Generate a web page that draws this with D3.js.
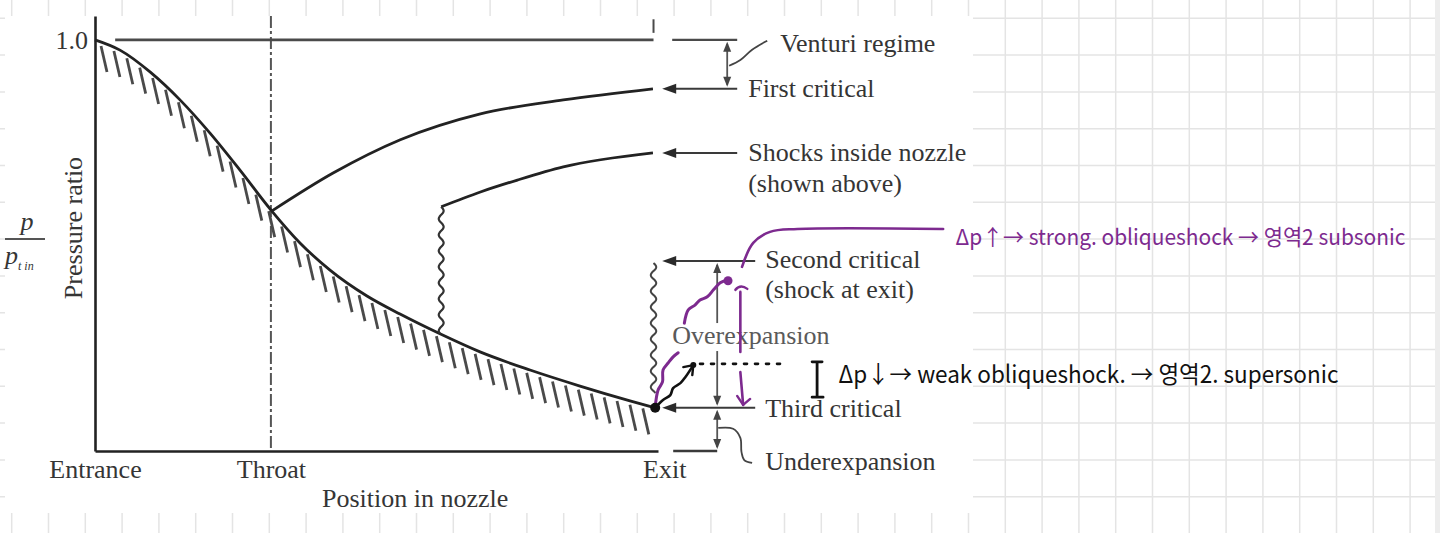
<!DOCTYPE html>
<html lang="en">
<meta charset="utf-8"/>
<head>
<style>
  html, body { margin: 0; padding: 0; background: #fff; }
  svg { display: block; }
  .fig text { font-family: "Liberation Serif", "DejaVu Serif", serif; fill: #353535; }
  .hand { font-family: "Noto Sans CJK KR", "Noto Sans", sans-serif; }
</style>
</head>
<body>
<svg id="chart" width="1440" height="533"></svg>

<script src="https://cdn.jsdelivr.net/npm/d3@7/dist/d3.min.js"></script>
<script>
// position in nozzle: 0 = entrance, 1 = exit ; value = pressure ratio p / p_t,in
let throatPos = 0.314
let shockPos = 0.618
let isentropic = [[0,1.0],[0.0446,0.975],[0.0982,0.922],[0.1517,0.854],[0.2053,0.773],[0.2588,0.683],[0.3142,0.586],
                  [0.3659,0.506],[0.4195,0.440],[0.4855,0.377],[0.5445,0.333],[0.6158,0.285],[0.6873,0.241],
                  [0.7765,0.197],[0.8658,0.158],[0.955,0.122],[1.0,0.105]]
let firstCritical = [[0.316,0.584],[0.425,0.676],[0.545,0.757],[0.688,0.820],[0.836,0.854],[0.996,0.881]]
let shockCurve = [[0.618,0.594],[0.688,0.630],[0.754,0.659],[0.836,0.691],[0.996,0.725]]
let shockFoot = 0.283
let secondCriticalFoot = 0.14

// exit back-pressure levels
let venturiTop = 1.0
let levelNames = ["First critical", "Shocks inside nozzle", "Second critical", "Third critical"]
let levelValues = [0.881, 0.725, 0.462, 0.105]
let underLevel = 0

let xTickNames = ["Entrance", "Throat", "Exit"]
let xTickPos = [0, throatPos, 1]
let yTickNames = ["1.0"]
let yTickPos = [1.0]

// handwritten notes (same position / ratio units)
let purpleLeader = [[1.155,0.448],[1.175,0.506],[1.205,0.533],[1.254,0.540],[1.514,0.540]]
let purpleRise1 = [[1.0,0.107],[1.005,0.148],[1.013,0.168],[1.014,0.197],[1.023,0.214],[1.032,0.229],[1.041,0.239]]
let purpleRise2 = [[1.052,0.311],[1.059,0.343],[1.071,0.355],[1.080,0.367],[1.093,0.375],[1.104,0.392],[1.116,0.409],[1.129,0.416]]
let purpleDot = [1.130, 0.414]
let purpleDownA = [[1.152,0.387],[1.152,0.241]]
let purpleDownB = [[1.152,0.192],[1.157,0.112]]
let blackDot = [1.0, 0.105]
let blackRise = [[1.0,0.105],[1.014,0.124],[1.027,0.136],[1.032,0.153],[1.045,0.165],[1.054,0.180],[1.068,0.209]]
let blackDotted = [[1.080,0.212],[1.232,0.212]]
let bracket = [1.289, 0.217, 0.131]
let venturiLeader = [[1.132,0.937],[1.152,0.951],[1.173,0.976],[1.2,0.998]]
let underLeader = [[1.1125,0.056],[1.139,0.054],[1.152,0.032],[1.154,-0.002],[1.159,-0.022],[1.173,-0.029]]
let noteStrong = "Δp↑→ strong. obliqueshock → 영역2 subsonic"
let noteWeak = "Δp↓→ weak obliqueshock. → 영역2. supersonic"
let noteStrongAt = [1.536, 0.501]
let noteWeakAt = [1.327, 0.165]

let svg = d3.select("#chart")
let W = 1440, H = 533
let ink = "#222"
let purple = "#7d2a8f"

// notebook grid behind the pasted figure
let grid = svg.append("g")
grid.selectAll(".gv").data(d3.range(11.7, W, 36.8)).enter().append("line")
    .attr("x1", d => d).attr("x2", d => d).attr("y1", 0).attr("y2", H)
    .attr("stroke", "#e4e4e4").attr("stroke-width", 1.5)
grid.selectAll(".gh").data(d3.range(18.3, H, 36.8)).enter().append("line")
    .attr("x1", 0).attr("x2", 1435).attr("y1", d => d).attr("y2", d => d)
    .attr("stroke", "#e4e4e4").attr("stroke-width", 1.5)
svg.append("rect").attr("x", 1435).attr("y", 0).attr("width", 5).attr("height", H).attr("fill", "#ededed")
svg.append("rect").attr("x", 5).attr("y", 16).attr("width", 968).attr("height", 497).attr("fill", "#fff")

let fig = svg.append("g").attr("class", "fig")

let x = d3.scaleLinear().domain([0, 1.005]).range([95, 658])
let y = d3.scaleLinear().domain([0, 1.058]).range([451, 16])
let line = d3.line().x(d => x(d[0])).y(d => y(d[1])).curve(d3.curveMonotoneX)
let sketch = d3.line().x(d => x(d[0])).y(d => y(d[1])).curve(d3.curveCatmullRom)

function head(g, tx, ty, ang, len, half, col) {
    let bx = tx - len * Math.cos(ang), by = ty - len * Math.sin(ang)
    let nx = -Math.sin(ang) * half, ny = Math.cos(ang) * half
    g.append("path").attr("d", `M${tx},${ty}L${bx + nx},${by + ny}L${bx - nx},${by - ny}Z`).attr("fill", col || "#2a2a2a")
}
function wavy(x0, y0, y1, amp, period) {
    let pts = d3.range(y0, y1, 1).map(v => [x0 + amp * Math.sin((v - y0) / period * 2 * Math.PI), v])
    return d3.line().curve(d3.curveBasis)(pts)
}

// axes
let yAxis = fig.append("g").attr("transform", `translate(${x(0)},0)`)
    .call(d3.axisLeft(y).tickValues(yTickPos).tickFormat((d, i) => yTickNames[i]).tickSize(0).tickSizeOuter(0).tickPadding(7))
let xAxis = fig.append("g").attr("transform", `translate(0,${y(0)})`)
    .call(d3.axisBottom(x).tickValues(xTickPos).tickFormat((d, i) => xTickNames[i]).tickSize(0).tickSizeOuter(0).tickPadding(9))
for (let a of [xAxis, yAxis]) {
    a.attr("font-family", null).attr("font-size", null)
    a.select(".domain").attr("stroke", ink).attr("stroke-width", 2.6)
    a.selectAll("text").attr("font-size", 26).attr("fill", "#353535")
}
xAxis.selectAll(".tick").filter((d, i) => i == 2).select("text").attr("dx", 9)

// throat line
fig.append("line").attr("x1", x(throatPos)).attr("x2", x(throatPos)).attr("y1", y(1.058)).attr("y2", y(0))
    .attr("stroke", "#555").attr("stroke-width", 2).attr("stroke-dasharray", "12,3,3,3")

// venturi top line
fig.append("line").attr("x1", x(0.036)).attr("x2", x(0.997)).attr("y1", y(venturiTop)).attr("y2", y(venturiTop))
    .attr("stroke", "#4a4a4a").attr("stroke-width", 2.6)
fig.append("line").attr("x1", x(0.997)).attr("x2", x(0.997)).attr("y1", y(1.05)).attr("y2", y(1.017))
    .attr("stroke", "#4a4a4a").attr("stroke-width", 2)

// curves
let mainPath = fig.append("path").datum(isentropic).attr("d", line)
    .attr("fill", "none").attr("stroke", ink).attr("stroke-width", 2.8)
fig.append("path").datum(firstCritical).attr("d", line)
    .attr("fill", "none").attr("stroke", ink).attr("stroke-width", 2.8)
fig.append("path").datum(shockCurve).attr("d", line)
    .attr("fill", "none").attr("stroke", ink).attr("stroke-width", 2.8)
fig.append("path").attr("d", wavy(x(shockPos), y(shockCurve[0][1]), y(shockFoot), 2.5, 16))
    .attr("fill", "none").attr("stroke", "#333").attr("stroke-width", 2.2)
fig.append("path").attr("d", wavy(x(0.997), y(levelValues[2]) + 2, y(secondCriticalFoot), 2.8, 16))
    .attr("fill", "none").attr("stroke", "#444").attr("stroke-width", 2)

// hatching under the isentropic curve
let node = mainPath.node()
let total = node.getTotalLength()
let samples = d3.range(0, total, 0.5).map(l => node.getPointAtLength(l))
let near = d3.bisector(p => p.x).center
fig.append("g").selectAll("line").data(d3.range(x(0) + 6, x(1) - 2, 12.9)).enter().append("line")
    .each(function (hx) {
        let p = samples[near(samples, hx)]
        d3.select(this).attr("x1", hx).attr("y1", p.y + 4).attr("x2", hx + 6).attr("y2", p.y + 30)
    })
    .attr("stroke", "#4a4a4a").attr("stroke-width", 2.8)

// exit arrows and labels
let ax0 = x(1) + 7
let arrowEnds = [x(1) + 82, x(1) + 82, x(1) + 100, x(1) + 100]
levelValues.forEach((v, i) => {
    fig.append("line").attr("x1", ax0 + 8).attr("x2", arrowEnds[i]).attr("y1", y(v)).attr("y2", y(v))
        .attr("stroke", "#3a3a3a").attr("stroke-width", 2)
    head(fig, ax0, y(v), Math.PI, 14, 5)
})
fig.append("line").attr("x1", x(1) + 17).attr("x2", x(1) + 82).attr("y1", y(venturiTop)).attr("y2", y(venturiTop))
    .attr("stroke", "#4a4a4a").attr("stroke-width", 2.4)
fig.append("line").attr("x1", x(1) + 18).attr("x2", x(1) + 62).attr("y1", y(underLevel)).attr("y2", y(underLevel))
    .attr("stroke", "#3a3a3a").attr("stroke-width", 2.4)

function dbl(xx, top, bot) {
    fig.append("line").attr("x1", xx).attr("x2", xx).attr("y1", top + 4).attr("y2", bot - 4)
        .attr("stroke", "#555").attr("stroke-width", 1.8)
    head(fig, xx, top + 2, -Math.PI / 2, 10, 4, "#444")
    head(fig, xx, bot - 2, Math.PI / 2, 10, 4, "#444")
}
dbl(x(1) + 72, y(venturiTop), y(levelValues[0]))
dbl(x(1) + 62, y(levelValues[2]), y(levelValues[3]))
dbl(x(1) + 62, y(levelValues[3]), y(underLevel))

fig.append("path").datum(venturiLeader).attr("d", sketch).attr("fill", "none").attr("stroke", "#444").attr("stroke-width", 1.8)
fig.append("path").datum(underLeader).attr("d", sketch).attr("fill", "none").attr("stroke", "#444").attr("stroke-width", 1.8)

// white patch where the overexpansion label sits on the arrow
fig.append("rect").attr("x", x(1) + 16).attr("y", y(levelValues[2]) + 62).attr("width", 160).attr("height", 28).attr("fill", "#fff")

let lab = fig.append("g").attr("font-size", 26)
let labX1 = x(1) + 93, labX2 = x(1) + 110
lab.append("text").attr("x", labX1 + 32).attr("y", y(venturiTop) + 12).text("Venturi regime")
lab.append("text").attr("x", labX1).attr("y", y(levelValues[0]) + 8).text(levelNames[0])
lab.append("text").attr("x", labX1).attr("y", y(levelValues[1]) + 8).text(levelNames[1])
lab.append("text").attr("x", labX1).attr("y", y(levelValues[1]) + 39).text("(shown above)")
lab.append("text").attr("x", labX2).attr("y", y(levelValues[2]) + 7).text(levelNames[2])
lab.append("text").attr("x", labX2).attr("y", y(levelValues[2]) + 37).text("(shock at exit)")
lab.append("text").attr("x", labX2).attr("y", y(levelValues[3]) + 9).text(levelNames[3])
lab.append("text").attr("x", labX2).attr("y", y(underLevel) + 19).text("Underexpansion")
lab.append("text").attr("x", x(1) + 17).attr("y", y(levelValues[2]) + 83).style("fill", "#5a5a5a").text("Overexpansion")

// y label and fraction
lab.append("text").attr("transform", "translate(82,228) rotate(-90)").attr("text-anchor", "middle").text("Pressure ratio")
lab.append("text").attr("x", 27).attr("y", 230).attr("text-anchor", "middle").attr("font-style", "italic").text("p")
lab.append("line").attr("x1", 5).attr("x2", 45).attr("y1", 239).attr("y2", 239).attr("stroke", "#555").attr("stroke-width", 2)
let den = lab.append("text").attr("x", 5).attr("y", 264).attr("font-style", "italic")
den.append("tspan").text("p")
den.append("tspan").attr("font-size", 12).attr("dy", 6).text("t in")
lab.append("text").attr("x", (x(0) + x(1)) / 2 + 40).attr("y", y(0) + 56).attr("text-anchor", "middle").text("Position in nozzle")

// handwritten notes
let hw = svg.append("g").attr("fill", "none").attr("stroke-linecap", "round").attr("stroke-linejoin", "round")
hw.append("path").datum(purpleLeader).attr("d", sketch).attr("stroke", purple).attr("stroke-width", 2.6)
hw.append("path").datum(purpleRise1).attr("d", sketch).attr("stroke", purple).attr("stroke-width", 3)
hw.append("path").datum(purpleRise2).attr("d", sketch).attr("stroke", purple).attr("stroke-width", 3)
hw.append("circle").attr("cx", x(purpleDot[0])).attr("cy", y(purpleDot[1])).attr("r", 4.5).attr("fill", purple)
hw.append("path").datum(purpleDownA).attr("d", sketch).attr("stroke", purple).attr("stroke-width", 2.6)
hw.append("path").datum(purpleDownB).attr("d", sketch).attr("stroke", purple).attr("stroke-width", 2.6)
let pa = purpleDownA[0], pb = purpleDownB[1]
hw.append("path").attr("d", `M${x(pa[0]) - 5},${y(pa[1]) - 2}Q${x(pa[0])},${y(pa[1]) - 8} ${x(pa[0]) + 7},${y(pa[1]) - 3}`)
    .attr("stroke", purple).attr("stroke-width", 2.4)
hw.append("path").attr("d", `M${x(pb[0]) - 6},${y(pb[1]) - 9}L${x(pb[0])},${y(pb[1])}L${x(pb[0]) + 7},${y(pb[1]) - 6}`)
    .attr("stroke", purple).attr("stroke-width", 2.4)

hw.append("path").datum(blackRise).attr("d", sketch).attr("stroke", "#111").attr("stroke-width", 2.6)
let bt = blackRise[blackRise.length - 1]
hw.append("path").attr("d", `M${x(bt[0]) - 10},${y(bt[1]) + 2}L${x(bt[0])},${y(bt[1])}L${x(bt[0]) - 1},${y(bt[1]) + 10}`)
    .attr("stroke", "#111").attr("stroke-width", 2.4)
hw.append("circle").attr("cx", x(bt[0])).attr("cy", y(bt[1])).attr("r", 3).attr("fill", "#111")
hw.append("circle").attr("cx", x(blackDot[0])).attr("cy", y(blackDot[1])).attr("r", 5).attr("fill", "#111")
hw.append("path").datum(blackDotted).attr("d", sketch).attr("stroke", "#111").attr("stroke-width", 2.6).attr("stroke-dasharray", "3,8")
let bx = x(bracket[0]), bTop = y(bracket[1]), bBot = y(bracket[2])
hw.append("path").attr("d", `M${bx - 5},${bTop}L${bx + 5},${bTop}M${bx},${bTop}L${bx},${bBot}M${bx - 5},${bBot}L${bx + 6},${bBot}`)
    .attr("stroke", "#111").attr("stroke-width", 2.8)

svg.append("text").attr("class", "hand").attr("x", x(noteStrongAt[0])).attr("y", y(noteStrongAt[1]))
    .attr("font-size", 22).attr("fill", purple).attr("textLength", 450).attr("lengthAdjust", "spacingAndGlyphs").text(noteStrong)
svg.append("text").attr("class", "hand").attr("x", x(noteWeakAt[0])).attr("y", y(noteWeakAt[1]))
    .attr("font-size", 24).attr("fill", "#111").attr("textLength", 500).attr("lengthAdjust", "spacingAndGlyphs").text(noteWeak)
</script>
</body>
</html>
